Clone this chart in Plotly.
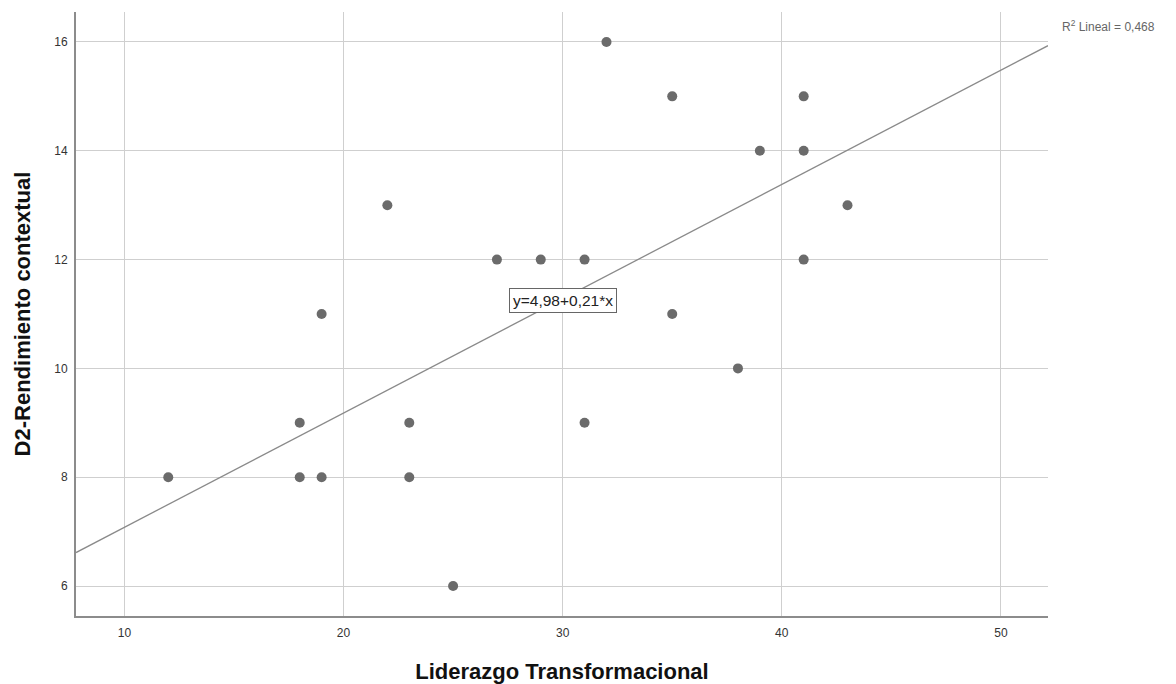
import plotly.graph_objects as go
import numpy as np

x_vals = [12, 18, 18, 19, 19, 22, 23, 23, 25, 27, 29, 31, 31, 32, 35, 35, 38, 39, 41, 41, 41, 43]
y_vals = [8, 9, 8, 11, 8, 13, 9, 8, 6, 12, 12, 12, 9, 16, 15, 11, 10, 14, 15, 14, 12, 13]
intercept = 4.98
slope = 0.21
r2_text = "R<sup>2</sup> Lineal = 0,468"
eq_text = "y=4,98+0,21*x"
x_ticks = [10, 20, 30, 40, 50]
y_ticks = [6, 8, 10, 12, 14, 16]
x_range = [7.79, 52.15]
y_range = [5.45, 16.55]

font_family = "Liberation Sans, Arial, sans-serif"

fig = go.Figure()
fig.add_trace(go.Scatter(
    x=x_vals, y=y_vals, mode="markers",
    marker=dict(size=10, color="#6b6b6b"),
    showlegend=False, hoverinfo="skip"))

lx = np.array(x_range)
fig.add_trace(go.Scatter(
    x=lx, y=intercept + slope * lx, mode="lines",
    line=dict(color="#8a8a8a", width=1.3),
    showlegend=False, hoverinfo="skip"))

fig.add_annotation(
    x=30, y=11.25, xref="x", yref="y", text=eq_text, showarrow=False,
    font=dict(family=font_family, size=15.5, color="#222222"),
    bgcolor="white", bordercolor="#666666", borderwidth=1, borderpad=3)

fig.add_annotation(
    x=1.012, y=16.3, xref="paper", yref="y", text=r2_text, showarrow=False,
    xanchor="left", yanchor="middle",
    font=dict(family=font_family, size=12, color="#666666"))

fig.update_xaxes(
    range=x_range, tickvals=x_ticks, showgrid=True, gridcolor="#cfcfcf", gridwidth=1,
    showline=True, linecolor="#8c8c8c", linewidth=2, zeroline=False,
    ticks="", tickfont=dict(family=font_family, size=12, color="#333333"),
    ticklabelstandoff=5, automargin=False,
    title=dict(text="<b>Liderazgo Transformacional</b>",
               font=dict(family=font_family, size=22, color="#111111"), standoff=24))
fig.update_yaxes(
    range=y_range, tickvals=y_ticks, showgrid=True, gridcolor="#cfcfcf", gridwidth=1,
    showline=True, linecolor="#8c8c8c", linewidth=2, zeroline=False,
    ticks="", tickfont=dict(family=font_family, size=12, color="#333333"),
    ticklabelstandoff=4, automargin=False,
    title=dict(text="<b>D2-Rendimiento contextual</b>",
               font=dict(family=font_family, size=22, color="#111111"), standoff=18))

fig.update_layout(
    width=1176, height=684,
    margin=dict(l=76, r=128, t=12, b=68),
    plot_bgcolor="white", paper_bgcolor="white")

fig.write_html("out.html", config={"displayModeBar": False},
               post_script="document.body.style.margin='0';document.body.style.overflow='hidden';")
